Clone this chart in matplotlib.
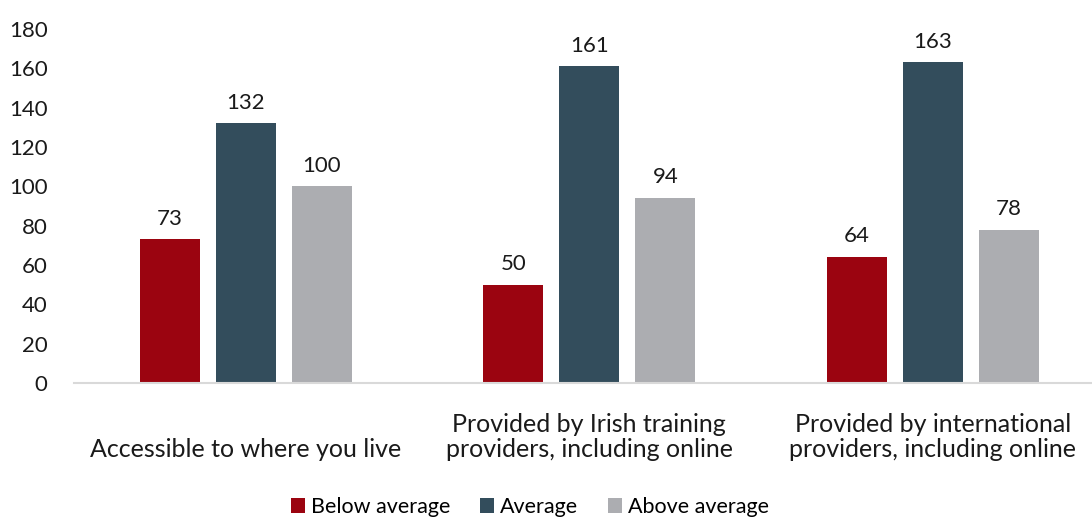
import matplotlib.pyplot as plt
import numpy as np

categories = ["Accessible to where you live",
              "Provided by Irish training\nproviders, including online",
              "Provided by international\nproviders, including online"]
below = [73, 50, 64]
average = [132, 161, 163]
above = [100, 94, 78]
series_names = ["Below average", "Average", "Above average"]
colors = ["#9B0410", "#334D5C", "#ACADB1"]

plt.rcParams['font.family'] = ['Lato', 'DejaVu Sans']

fig = plt.figure(figsize=(10.92, 5.17), dpi=100)
ax = fig.add_axes([74/1092, 134/517, 1 - 74/1092, 354/517])

x = np.arange(len(categories))
w = 0.175
step = 0.221
for i, (vals, name, c) in enumerate(zip([below, average, above], series_names, colors)):
    bars = ax.bar(x + (i - 1) * step, vals, w, color=c, label=name)
    for b, v in zip(bars, vals):
        ax.text(b.get_x() + b.get_width() / 2, v + 5.5, str(v),
                ha='center', va='bottom', fontsize=16, color='#1a1a1a')

ax.set_xlim(-0.5, 2.463)
ax.set_ylim(0, 180)
ax.set_yticks(range(0, 181, 20))
ax.set_xticks(x)
ax.set_xticklabels(categories, fontsize=18, color='#1a1a1a', va='bottom',
                   linespacing=1.08)
ax.tick_params(axis='y', labelsize=16, colors='#1a1a1a', length=0, pad=19)
ax.tick_params(axis='x', length=0, pad=56)
for s in ['top', 'right', 'left']:
    ax.spines[s].set_visible(False)
ax.spines['bottom'].set_color('#d9d9d9')
ax.spines['bottom'].set_linewidth(1.5)

ax.legend(loc='center', bbox_to_anchor=(0.448, -0.35), ncol=3,
          frameon=False, fontsize=15.5, handlelength=0.65, handleheight=0.65,
          handletextpad=0.28, columnspacing=1.4)

fig.savefig("out.png", dpi=100)
